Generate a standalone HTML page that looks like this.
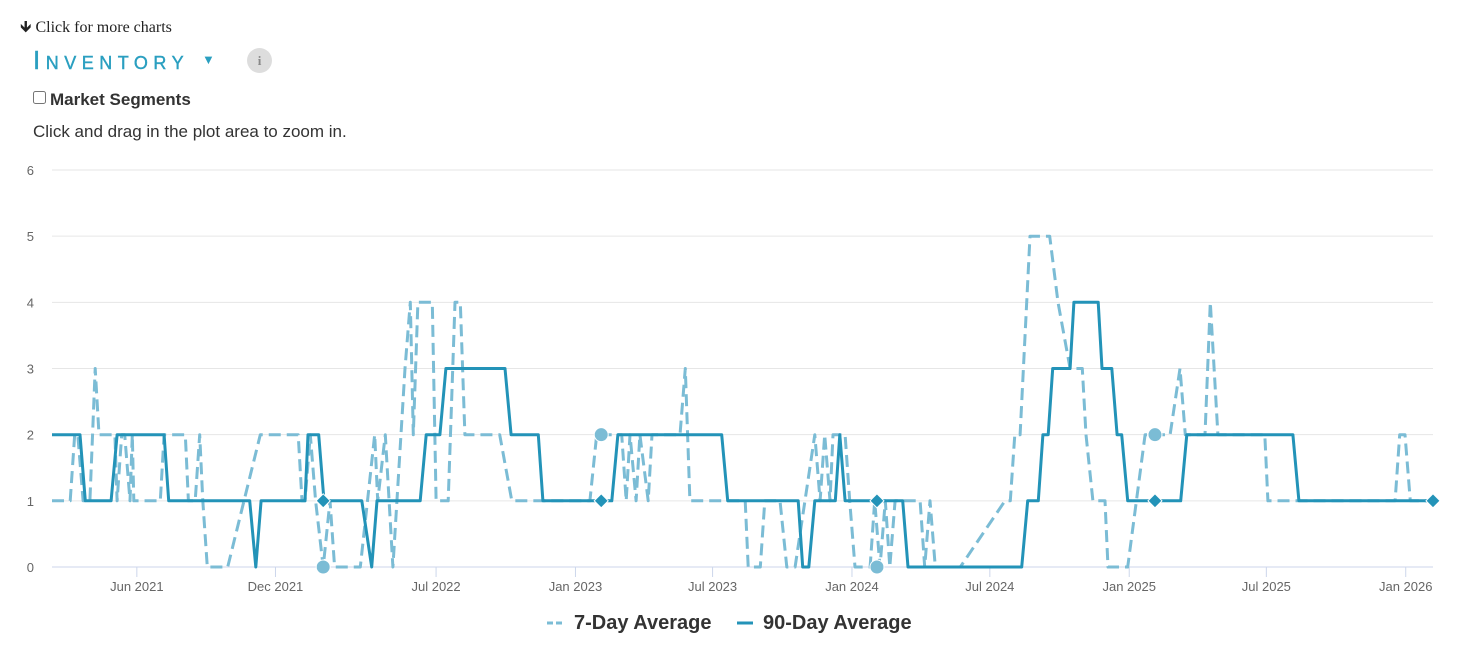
<!DOCTYPE html>
<html><head><meta charset="utf-8"><style>
body{margin:0;width:1479px;height:659px;background:#fff;font-family:"Liberation Sans",sans-serif;position:relative;overflow:hidden}
.more{position:absolute;left:20px;top:16px;font-family:"Liberation Serif",serif;font-size:16px;color:#222}
.title{position:absolute;left:33px;top:45px;font-size:26px;color:#2a9fc0;font-variant:small-caps;letter-spacing:5.5px;white-space:nowrap;-webkit-text-stroke:0.4px #2a9fc0}
.caret{position:absolute;left:202px;top:52px;font-size:13px;color:#2a9fc0}
.info{position:absolute;left:247px;top:48px;width:25px;height:25px;border-radius:50%;background:#ddd;color:#888;font-size:13px;text-align:center;line-height:25px;font-family:"Liberation Serif",serif;font-weight:bold}
.seg{position:absolute;left:33px;top:90px;font-size:17px;font-weight:bold;color:#333}
.seg input{margin:0 4px 0 0;width:13px;height:13px;vertical-align:1px}
.hint{position:absolute;left:33px;top:122px;font-size:17px;color:#333}
svg{position:absolute;left:0;top:0}
</style></head><body>
<div class="more">🡻 Click for more charts</div>
<div class="title">Inventory</div>
<div class="caret">▼</div>
<div class="info">i</div>
<div class="seg"><input type="checkbox">Market Segments</div>
<div class="hint">Click and drag in the plot area to zoom in.</div>
<svg id="chart" width="1479" height="659"></svg>
<script>
const yTicks=[0,1,2,3,4,5,6];
const xTickLabels=["Jun 2021","Dec 2021","Jul 2022","Jan 2023","Jul 2023","Jan 2024","Jul 2024","Jan 2025","Jul 2025","Jan 2026"];
const xTickDates=["2021-06-01","2021-12-01","2022-07-01","2023-01-01","2023-07-01","2024-01-01","2024-07-01","2025-01-01","2025-07-01","2026-01-01"];
const day90=[0,37,44,78,86,148,154,261,269,276,334,338,352,359,409,422,429,486,494,512,520,598,606,642,648,739,747,884,892,985,991,999,1007,1034,1040,1047,1123,1130,1280,1288,1302,1308,1315,1321,1344,1349,1381,1386,1399,1406,1412,1420,1490,1498,1638,1646,1823];
const val90=[2,2,1,1,2,2,1,1,0,1,1,2,2,1,1,0,1,1,2,2,3,3,2,2,1,1,2,2,1,1,0,0,1,1,2,1,1,0,0,1,1,2,2,3,3,4,4,3,3,2,2,1,1,2,2,1,1];
const day7=[0,24,30,34,41,50,57,62,83,86,92,96,103,106,108,143,148,176,180,189,195,199,205,232,275,325,330,334,341,348,358,367,373,407,426,430,440,450,466,473,477,483,496,502,507,523,532,539,545,591,607,710,719,752,758,763,771,776,787,792,829,836,842,915,919,935,941,961,970,981,1007,1014,1020,1027,1031,1047,1053,1060,1080,1086,1093,1100,1106,1113,1126,1146,1152,1159,1166,1199,1258,1265,1271,1278,1291,1317,1328,1344,1360,1365,1374,1390,1394,1420,1443,1476,1489,1496,1522,1529,1539,1601,1605,1773,1779,1786,1793,1823];
const val7=[1,1,2,2,1,1,3,2,2,1,2,2,1,2,1,1,2,2,1,1,2,1,0,0,2,2,1,1,2,1,0,1,0,0,2,1,2,0,3,4,2,4,4,4,1,1,4,4,2,2,1,1,2,2,1,2,1,2,1,2,2,3,1,1,0,0,1,1,0,0,2,1,2,1,2,2,1,0,0,1,0,1,0,1,1,1,0,1,0,0,1,1,2,2,5,5,4,3,3,2,1,1,0,0,2,2,3,2,2,4,2,2,1,1,2,2,1,1];
const marker7Days=[358,725,1089,1456];
const marker7Vals=[0,2,0,2];
const marker90Days=[358,725,1089,1456,1823];
const marker90Vals=[1,1,1,1,1];
const startDate=new Date("2021-02-09");
const X0=52,X1=1433,Y0=567,Y6=170,totalDays=1823;
const xs=d=>X0+(d/totalDays)*(X1-X0);
const ys=v=>Y0-(v/6)*(Y0-Y6);
const dateToDay=s=>(new Date(s)-startDate)/86400000;
const svg=document.getElementById('chart');
const NS='http://www.w3.org/2000/svg';
function mk(tag,attrs){const e=document.createElementNS(NS,tag);for(const k in attrs)e.setAttribute(k,attrs[k]);svg.appendChild(e);return e;}
yTicks.forEach(v=>{
  const g=mk('line',{x1:X0,x2:X1,y1:ys(v),y2:ys(v),stroke:v===0?'#ccd6eb':'#e6e6e6','stroke-width':1});
  
  
  const t=mk('text',{x:34,y:ys(v)+5,'font-size':13,fill:'#666','text-anchor':'end'});
  t.textContent=v;
  
  
});
xTickDates.forEach((s,i)=>{
  const x=xs(dateToDay(s));
  const l=mk('line',{x1:x,x2:x,y1:Y0,y2:Y0+10,stroke:'#ccd6eb'});
  
  
  const t=mk('text',{x:x,y:Y0+24,'font-size':13,fill:'#666','text-anchor':'middle'});
  t.textContent=xTickLabels[i];
  
  
});
function pts(d,v){return d.map((dd,i)=>xs(dd).toFixed(1)+','+ys(v[i]).toFixed(1)).join(' ');}
const l7=mk('polyline',{points:pts(day7,val7),fill:'none',stroke:'#7bbcd5','stroke-width':3,'stroke-dasharray':'12,6','stroke-linejoin':'round'});


const l90=mk('polyline',{points:pts(day90,val90),fill:'none',stroke:'#2393b8','stroke-width':3,'stroke-linejoin':'round'});


marker7Days.forEach((d,i)=>{
  const c=mk('circle',{cx:xs(d),cy:ys(marker7Vals[i]),r:7,fill:'#7bbcd5',stroke:'#fff','stroke-width':1});
  
  
});
marker90Days.forEach((d,i)=>{
  const x=xs(d),y=ys(marker90Vals[i]);
  const p=mk('polygon',{points:`${x},${y-7} ${x+7},${y} ${x},${y+7} ${x-7},${y}`,fill:'#2393b8',stroke:'#fff','stroke-width':1});
  
  
});
const lg1=mk('line',{x1:547,x2:563,y1:623,y2:623,stroke:'#7bbcd5','stroke-width':3,'stroke-dasharray':'6,3'});


const lt1=mk('text',{x:574,y:629,'font-size':20,'font-weight':'bold',fill:'#333'});
lt1.textContent='7-Day Average';


const lg2=mk('line',{x1:737,x2:753,y1:623,y2:623,stroke:'#2393b8','stroke-width':3});


const lt2=mk('text',{x:763,y:629,'font-size':20,'font-weight':'bold',fill:'#333'});
lt2.textContent='90-Day Average';


</script>
</body></html>
